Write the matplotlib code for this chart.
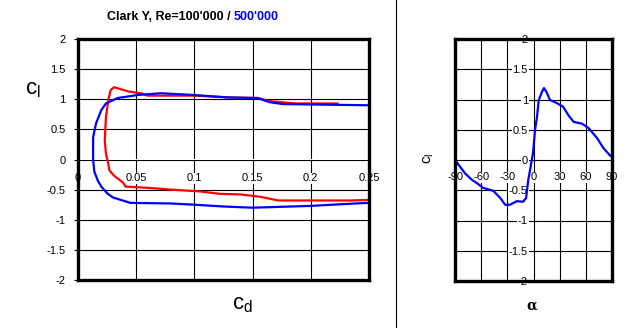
import matplotlib
matplotlib.use("Agg")
import matplotlib.pyplot as plt
from matplotlib.lines import Line2D

# polar Re=100'000 (red): cd, cl
cd_100k = [0.25, 0.235, 0.2, 0.172, 0.157, 0.14, 0.122, 0.105, 0.08, 0.06, 0.041,
           0.0385, 0.031, 0.027, 0.026, 0.024, 0.023, 0.024, 0.026, 0.028, 0.031,
           0.043, 0.054, 0.06, 0.1, 0.131, 0.155, 0.164, 0.187, 0.223]
cl_100k = [-0.67, -0.68, -0.68, -0.68, -0.62, -0.58, -0.57, -0.53, -0.5, -0.47, -0.45,
           -0.38, -0.27, -0.18, -0.07, 0.1, 0.32, 0.7, 0.98, 1.15, 1.2,
           1.13, 1.1, 1.06, 1.06, 1.03, 1.02, 0.97, 0.93, 0.93]

# polar Re=500'000 (blue): cd, cl
cd_500k = [0.25, 0.238, 0.2, 0.15, 0.125, 0.1, 0.08, 0.045, 0.04, 0.03, 0.025, 0.02,
           0.017, 0.014, 0.013, 0.013, 0.0155, 0.02, 0.024, 0.034, 0.051, 0.071,
           0.1, 0.128, 0.154, 0.165, 0.176, 0.25]
cl_500k = [-0.72, -0.73, -0.77, -0.8, -0.78, -0.75, -0.73, -0.72, -0.69, -0.63, -0.56,
           -0.45, -0.35, -0.2, 0.0, 0.37, 0.6, 0.82, 0.93, 1.02, 1.07, 1.1,
           1.07, 1.03, 1.02, 0.95, 0.92, 0.9]

# cl over alpha, Re=500'000
alpha_500k = [-90, -78.5, -70.5, -65, -58, -46, -38, -32.5, -27, -19, -12, -8.5, -6, -4,
              -0.6, 1.8, 4, 6, 9.5, 12, 15, 19, 27, 34, 40, 46, 55.6, 63, 73, 80, 88, 90]
cl_alpha_500k = [0, -0.22, -0.33, -0.38, -0.46, -0.51, -0.63, -0.74, -0.74, -0.68, -0.69,
                 -0.63, -0.33, -0.17, 0.11, 0.5, 0.71, 0.99, 1.12, 1.19, 1.12, 0.99,
                 0.94, 0.88, 0.74, 0.63, 0.6, 0.53, 0.36, 0.2, 0.07, 0.05]

cd_ticks = [0, 0.05, 0.1, 0.15, 0.2, 0.25]
cd_labels = ["0", "0.05", "0.1", "0.15", "0.2", "0.25"]
cl_ticks = [2, 1.5, 1, 0.5, 0, -0.5, -1, -1.5, -2]
cl_labels = ["2", "1.5", "1", "0.5", "0", "-0.5", "-1", "-1.5", "-2"]
alpha_ticks = [-90, -60, -30, 0, 30, 60, 90]
alpha_labels = ["-90", "-60", "-30", "0", "30", "60", "90"]

plt.rcParams["font.family"] = ["Liberation Sans", "DejaVu Sans"]

W, H = 628, 328
fig = plt.figure(figsize=(W / 100, H / 100), dpi=100)

white = dict(facecolor="white", edgecolor="none", pad=0.5)

# left: polar
ax1 = fig.add_axes([78 / W, 1 - 280 / H, 291 / W, 241 / H])
ax1.plot(cd_100k, cl_100k, color="red", lw=1.6)
ax1.plot(cd_500k, cl_500k, color="blue", lw=1.6)
ax1.set_xlim(0, 0.25)
ax1.set_ylim(-2, 2)
ax1.set_xticks(cd_ticks)
ax1.set_yticks(cl_ticks, cl_labels)
ax1.grid(color="black", lw=0.8)
ax1.tick_params(axis="x", length=0, labelbottom=False)
ax1.tick_params(axis="y", length=3, width=0.8, pad=6, labelsize=8)
for sp in ax1.spines.values():
    sp.set_linewidth(2.4)

sx1 = ax1.secondary_xaxis(0.5)
sx1.set_alignment("bottom")
sx1.spines["bottom"].set_visible(False)
sx1.set_xticks(cd_ticks, cd_labels)
sx1.tick_params(length=0, pad=10, labelsize=8)
sx1.set_zorder(1.8)
for lbl in sx1.get_xticklabels():
    lbl.set_bbox(white)

# right: cl over alpha
ax2 = fig.add_axes([455 / W, 1 - 281 / H, 157 / W, 242 / H])
ax2.plot(alpha_500k, cl_alpha_500k, color="blue", lw=1.6)
ax2.set_xlim(-90, 90)
ax2.set_ylim(-2, 2)
ax2.set_xticks(alpha_ticks)
ax2.set_yticks(cl_ticks)
ax2.grid(color="black", lw=0.8)
ax2.tick_params(length=0, labelleft=False, labelbottom=False)
for sp in ax2.spines.values():
    sp.set_linewidth(2.4)

sx2 = ax2.secondary_xaxis(0.5)
sx2.set_alignment("bottom")
sx2.spines["bottom"].set_visible(False)
sx2.set_xticks(alpha_ticks, alpha_labels)
sx2.tick_params(length=0, pad=9, labelsize=8)
sx2.set_zorder(1.8)
for lbl in sx2.get_xticklabels():
    lbl.set_bbox(white)

sy2 = ax2.secondary_yaxis(0.5)
sy2.set_alignment("left")
sy2.spines["left"].set_visible(False)
sy2.set_yticks(cl_ticks, cl_labels)
sy2.tick_params(direction="inout", length=6, width=0.8, pad=1, labelsize=8)
sy2.set_zorder(1.8)
for lbl in sy2.get_yticklabels():
    lbl.set_bbox(white)

# axis labels
fig.text(33 / W, 1 - 90 / H, r"$\mathregular{c_l}$", fontsize=16, ha="center", va="center")
fig.text(242 / W, 1 - 304 / H, r"$\mathregular{c_d}$", fontsize=16, ha="center", va="center")
fig.text(429 / W, 1 - 158 / H, r"$\mathregular{c_l}$", fontsize=11, rotation=90,
         ha="center", va="center")
fig.text(532 / W, 1 - 306 / H, "α", fontsize=10, fontweight="bold", family="DejaVu Serif",
         ha="center", va="center")

# title in two colours
t1 = fig.text(107 / W, 1 - 17 / H, "Clark Y, Re=100'000 / ", fontsize=9,
              fontweight="bold", va="center")
fig.canvas.draw()
bb = t1.get_window_extent()
fig.text(bb.x1 / W, 1 - 17 / H, "500'000", fontsize=9, fontweight="bold",
         color="blue", va="center")

# separator
fig.add_artist(Line2D([396 / W, 396 / W], [0, 1], color="black", lw=0.8))

fig.savefig("out.png", dpi=100)
